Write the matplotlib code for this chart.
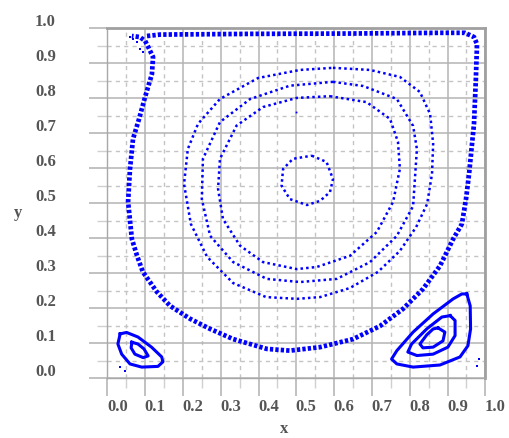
import matplotlib
matplotlib.use("Agg")
import matplotlib.pyplot as plt
import matplotlib.transforms as mtransforms
import numpy as np

# ---- data (in data units) ----
outer_x = [0.105, 0.140, 0.378, 0.642, 0.880, 0.946, 0.970, 0.978, 0.975, 0.970, 0.957, 0.949,
           0.938, 0.915, 0.880, 0.835, 0.782, 0.721, 0.650, 0.563, 0.483, 0.422, 0.333, 0.272,
           0.219, 0.166, 0.131, 0.094, 0.079, 0.065, 0.055, 0.060, 0.068, 0.084, 0.100, 0.118,
           0.121, 0.108, 0.100, 0.086, 0.065]
outer_y = [0.978, 0.982, 0.984, 0.985, 0.987, 0.987, 0.975, 0.955, 0.855, 0.726, 0.584, 0.513,
           0.441, 0.398, 0.321, 0.255, 0.198, 0.149, 0.112, 0.089, 0.079, 0.084, 0.112, 0.141,
           0.170, 0.207, 0.247, 0.304, 0.349, 0.398, 0.504, 0.598, 0.684, 0.741, 0.804, 0.869,
           0.918, 0.947, 0.964, 0.975, 0.978]
scatter_tl_x = [0.060, 0.068, 0.078, 0.087, 0.095]
scatter_tl_y = [0.974, 0.969, 0.961, 0.941, 0.932]

ring1_x = [0.597, 0.695, 0.774, 0.827, 0.854, 0.862, 0.859, 0.846, 0.817, 0.774, 0.716, 0.642,
           0.563, 0.502, 0.420, 0.333, 0.264, 0.221, 0.203, 0.213, 0.240, 0.298, 0.399, 0.510]
ring1_y = [0.887, 0.881, 0.861, 0.818, 0.755, 0.670, 0.584, 0.498, 0.432, 0.364, 0.304, 0.258,
           0.232, 0.227, 0.232, 0.272, 0.347, 0.441, 0.555, 0.655, 0.727, 0.798, 0.858, 0.881]
ring2_x = [0.597, 0.677, 0.766, 0.809, 0.819, 0.809, 0.766, 0.695, 0.607, 0.510, 0.422, 0.333,
           0.272, 0.250, 0.253, 0.298, 0.378, 0.483]
ring2_y = [0.847, 0.835, 0.798, 0.721, 0.655, 0.492, 0.407, 0.332, 0.284, 0.275, 0.284, 0.332,
           0.407, 0.512, 0.627, 0.732, 0.798, 0.836]
ring3_x = [0.589, 0.686, 0.748, 0.769, 0.774, 0.756, 0.713, 0.642, 0.554, 0.501, 0.412, 0.351,
           0.306, 0.293, 0.298, 0.342, 0.412, 0.501]
ring3_y = [0.806, 0.789, 0.741, 0.675, 0.598, 0.504, 0.418, 0.350, 0.318, 0.312, 0.332, 0.379,
           0.455, 0.541, 0.627, 0.722, 0.775, 0.801]
ring4_x = [0.541, 0.580, 0.597, 0.589, 0.563, 0.528, 0.483, 0.461, 0.465, 0.491]
ring4_y = [0.636, 0.618, 0.569, 0.532, 0.507, 0.495, 0.512, 0.550, 0.598, 0.627]
center_dot_x = [0.498]
center_dot_y = [0.760]

bl_outer_x = [0.034, 0.051, 0.081, 0.117, 0.144, 0.147, 0.134, 0.091, 0.060, 0.038, 0.028]
bl_outer_y = [0.127, 0.131, 0.118, 0.089, 0.061, 0.047, 0.034, 0.032, 0.041, 0.069, 0.098]
bl_inner_x = [0.065, 0.081, 0.097, 0.108, 0.095, 0.073, 0.063]
bl_inner_y = [0.103, 0.098, 0.084, 0.064, 0.059, 0.069, 0.087]
bl_dots_x = [0.034, 0.047]
bl_dots_y = [0.031, 0.022]

br_outer_x = [0.951, 0.960, 0.961, 0.954, 0.933, 0.880, 0.809, 0.766, 0.752, 0.766, 0.809,
              0.862, 0.915, 0.938]
br_outer_y = [0.241, 0.207, 0.141, 0.093, 0.061, 0.038, 0.032, 0.041, 0.055, 0.079, 0.132,
              0.184, 0.227, 0.241]
br_mid_x = [0.907, 0.920, 0.920, 0.901, 0.862, 0.819, 0.795, 0.805, 0.845, 0.885]
br_mid_y = [0.179, 0.165, 0.122, 0.089, 0.069, 0.065, 0.075, 0.098, 0.141, 0.175]
br_inner_x = [0.875, 0.893, 0.888, 0.862, 0.835, 0.827, 0.845, 0.862]
br_inner_y = [0.144, 0.132, 0.107, 0.089, 0.087, 0.098, 0.124, 0.141]
br_dots_x = [0.984, 0.979]
br_dots_y = [0.055, 0.035]

x_ticks = [0.0, 0.1, 0.2, 0.3, 0.4, 0.5, 0.6, 0.7, 0.8, 0.9, 1.0]
y_ticks = [0.0, 0.1, 0.2, 0.3, 0.4, 0.5, 0.6, 0.7, 0.8, 0.9, 1.0]
tick_labels = ["0.0", "0.1", "0.2", "0.3", "0.4", "0.5", "0.6", "0.7", "0.8", "0.9", "1.0"]

# ---- figure ----
BLUE = "#0000ff"
TXT = "#555555"
DPI = 100
fig = plt.figure(figsize=(5.10, 4.39), dpi=DPI)
ax = fig.add_axes([0.2104, 0.136, 0.7412, 0.7973])
ax.set_xlim(0, 1)
ax.set_ylim(0, 1)


def closed(a):
    return list(a) + [a[0]]


dot_ring = dict(color=BLUE, lw=1.8, linestyle=(0, (1, 1.25)), dash_capstyle="butt")
ax.plot(outer_x, outer_y, color=BLUE, lw=3.4, linestyle=(0, (0.7, 0.45)), dash_capstyle="butt")
ax.plot(scatter_tl_x, scatter_tl_y, linestyle="none", marker="s", ms=1.8, color=BLUE, mew=0)
for rx, ry in [(ring1_x, ring1_y), (ring2_x, ring2_y), (ring3_x, ring3_y), (ring4_x, ring4_y)]:
    ax.plot(closed(rx), closed(ry), **dot_ring)
ax.plot(center_dot_x, center_dot_y, linestyle="none", marker="s", ms=1.3, color=BLUE, mew=0)

solid = dict(color=BLUE, lw=2.2, solid_joinstyle="round")
for rx, ry in [(bl_outer_x, bl_outer_y), (bl_inner_x, bl_inner_y),
               (br_outer_x, br_outer_y), (br_mid_x, br_mid_y), (br_inner_x, br_inner_y)]:
    ax.plot(closed(rx), closed(ry), **solid)
ax.plot(bl_dots_x, bl_dots_y, linestyle="none", marker="s", ms=1.8, color=BLUE, mew=0)
ax.plot(br_dots_x, br_dots_y, linestyle="none", marker="s", ms=1.8, color=BLUE, mew=0)

# ---- axes styling ----
ax.set_xticks(x_ticks)
ax.set_yticks(y_ticks)
ax.set_xticks(np.arange(0.05, 1.0, 0.1), minor=True)
ax.set_yticks(np.arange(0.05, 1.0, 0.1), minor=True)
ax.set_xticklabels(tick_labels)
ax.set_yticklabels(tick_labels)
ax.grid(which="major", color="#b4b4b4", lw=1.1, linestyle="-")
ax.grid(which="minor", color="#c4c4c4", lw=1.0, linestyle=(0, (3, 3)))
ax.set_axisbelow(True)
ax.tick_params(which="major", length=13, width=1.1, color="#b0b0b0")
ax.tick_params(which="minor", length=7.5, width=1.0, color="#d0d0d0")
ax.tick_params(axis="x", which="major", pad=1)
ax.tick_params(axis="y", which="major", pad=24)

font = dict(family="Liberation Serif", weight="bold", size=12, color=TXT)
for lab in ax.get_xticklabels():
    lab.set(**font)
    lab.set_transform(lab.get_transform() + mtransforms.ScaledTranslation(10 / DPI, 0, fig.dpi_scale_trans))
for lab in ax.get_yticklabels():
    lab.set(**font)
    lab.set_transform(lab.get_transform() + mtransforms.ScaledTranslation(0, 9 / DPI, fig.dpi_scale_trans))

for side in ["left", "bottom"]:
    ax.spines[side].set_color("#a8a8a8")
    ax.spines[side].set_linewidth(1.0)
for side in ["top", "right"]:
    ax.spines[side].set_color("#a0a0a0")
    ax.spines[side].set_linewidth(2.0)

ax.set_xlabel("x", fontdict=font)
ax.set_ylabel("y", fontdict=font, rotation=0)
ax.xaxis.set_label_coords(0.467, -0.143)
ax.xaxis.label.set_va("center")
ax.yaxis.set_label_coords(-0.236, 0.475)
ax.yaxis.label.set_va("center")
ax.yaxis.label.set_ha("center")

fig.savefig("out.png", dpi=DPI)
